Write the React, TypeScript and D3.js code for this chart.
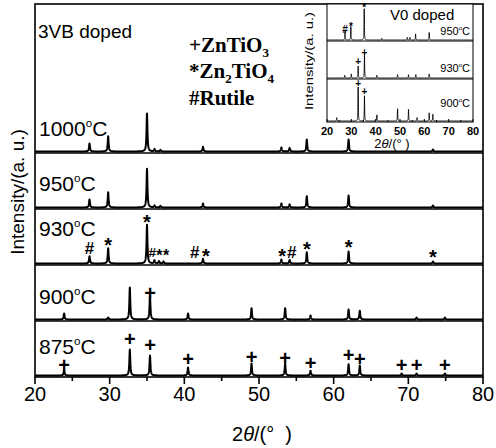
import React from 'react';
import * as d3 from 'd3';

// peak positions (2θ, degrees) and relative intensities
const pos1000 = [27.3, 29.8, 35.0, 36.0, 36.8, 42.5, 53.0, 54.1, 56.4, 62.0, 73.3];
const int1000 = [20, 38, 95, 6, 4, 12, 10, 9, 30, 30, 5];
const pos950 = [27.3, 29.8, 35.0, 36.0, 36.8, 42.5, 53.0, 54.1, 56.4, 62.0, 73.3];
const int950 = [20, 38, 97, 5, 4, 10, 10, 8, 28, 30, 5];
const pos930 = [27.3, 29.8, 35.0, 36.0, 36.6, 37.2, 42.5, 53.0, 54.1, 56.4, 62.0, 73.3];
const int930 = [18, 38, 97, 8, 6, 5, 12, 10, 9, 28, 30, 5];
const pos900 = [23.9, 29.8, 32.7, 35.4, 40.5, 49.0, 53.5, 56.9, 62.0, 63.5, 71.1, 74.9];
const int900 = [15, 5, 80, 60, 15, 28, 28, 10, 25, 22, 5, 5];
const pos875 = [23.9, 32.7, 35.4, 40.5, 49.0, 53.5, 56.9, 62.0, 63.5, 69.1, 71.1, 74.9];
const int875 = [14, 65, 50, 20, 30, 30, 12, 28, 25, 5, 5, 5];

// phase markers: position, symbol, height (same intensity units)
const mk930Pos = [27.3, 29.8, 35.0, 35.7, 36.65, 37.55, 41.4, 42.9, 53.1, 54.4, 56.4, 62.0, 73.3];
const mk930Sym = ['#', '*', '*', '#', '*', '*', '#', '*', '*', '#', '*', '*', '*'];
const mk930H = [40, 56, 115, 28, 28, 28, 30, 30, 30, 30, 48, 53, 28];
const mk900Pos = [35.4];
const mk900Sym = ['+'];
const mk900H = [68];
const mk875Pos = [23.9, 32.7, 35.4, 40.5, 49.0, 53.5, 56.9, 62.0, 63.5, 69.1, 71.1, 74.9];
const mk875Sym = mk875Pos.map(() => '+');
const mk875H = [27, 93, 78, 43, 48, 45, 33, 51, 43, 28, 28, 26];

const mainTemps = ['1000', '950', '930', '900', '875'];

// inset (V0 doped)
const in950Pos = [27.4, 29.8, 35.3, 42.5, 53.0, 54.1, 56.4, 62.0];
const in950Int = [26, 40, 92, 5, 8, 8, 18, 22];
const in930Pos = [27.3, 30.0, 32.8, 35.4, 40.5, 49.0, 53.5, 56.5, 62.0];
const in930Int = [8, 12, 35, 70, 8, 10, 10, 10, 12];
const in900Pos = [24.0, 32.8, 35.4, 40.5, 49.0, 53.5, 57.0, 62.0, 63.5];
const in900Int = [10, 100, 74, 18, 36, 34, 10, 24, 20];
const inMk950Pos = [27.4, 29.8, 35.3];
const inMk950Sym = ['#', '*', '*'];
const inMk950H = [32, 47, 102];
const inMk930Pos = [32.8, 35.4];
const inMk930Sym = ['+', '+'];
const inMk930H = [50, 75];
const inMk900Pos = [32.8, 35.4];
const inMk900Sym = ['+', '+'];
const inMk900H = [110, 86];
const insetTemps = ['950', '930', '900'];

const xTicks = [20, 30, 40, 50, 60, 70, 80];
const xMinor = [25, 35, 45, 55, 65, 75];

const SANS = '"Liberation Sans", Arial, sans-serif';
const SERIF = '"Liberation Serif", "Times New Roman", serif';

const grid = d3.range(20, 80.001, 0.02);

function profile(pos: number[], inten: number[], hw: number) {
  return grid.map(t => {
    let s = 0;
    pos.forEach((p, i) => {
      const d = t - p;
      s += (inten[i] * hw * hw) / (d * d + hw * hw);
    });
    return [t, s] as [number, number];
  });
}

function symDy(sym: string, fs: number) {
  return sym === '*' ? 0.56 * fs : 0.36 * fs;
}

function symSize(sym: string, fs: number) {
  return sym === '#' ? fs * 0.85 : fs;
}

function Deg({ x, y, t, fs, anchor }: any) {
  return (
    <text x={x} y={y} fontSize={fs} fontFamily={SANS} textAnchor={anchor || 'start'}>
      {t}
      <tspan fontSize={fs * 0.55} dy={-fs * 0.45}>o</tspan>
      <tspan dy={fs * 0.45}>C</tspan>
    </text>
  );
}

export default function App() {
  const left = 35, right = 483, top = 4, bottom = 377, step = 56;
  const x = d3.scaleLinear().domain([20, 80]).range([left, right]);
  const bases = mainTemps.map((_, i) => bottom - (4 - i) * step);
  const traces = [
    profile(pos1000, int1000, 0.07),
    profile(pos950, int950, 0.07),
    profile(pos930, int930, 0.07),
    profile(pos900, int900, 0.07),
    profile(pos875, int875, 0.07),
  ];
  const marks = [
    null,
    null,
    { p: mk930Pos, s: mk930Sym, h: mk930H },
    { p: mk900Pos, s: mk900Sym, h: mk900H },
    { p: mk875Pos, s: mk875Sym, h: mk875H },
  ];
  const labelOff = [17, 18, 29, 17, 23];

  // inset geometry
  const iL = 327, iR = 473, iTop = 4, iBottom = 122;
  const xi = d3.scaleLinear().domain([20, 80]).range([iL, iR]);
  const iBases = [41, 79, iBottom];
  const iTraces = [
    profile(in950Pos, in950Int, 0.08),
    profile(in930Pos, in930Int, 0.08),
    profile(in900Pos, in900Int, 0.08),
  ];
  const iMarks = [
    { p: inMk950Pos, s: inMk950Sym, h: inMk950H },
    { p: inMk930Pos, s: inMk930Sym, h: inMk930H },
    { p: inMk900Pos, s: inMk900Sym, h: inMk900H },
  ];
  const iLabelOff = [6, 7, 15];

  return (
    <svg width={496} height={448} style={{ position: 'absolute', left: 0, top: 0, background: '#fff' }}>
      {/* main traces */}
      {traces.map((tr, i) => {
        const y = d3.scaleLinear().domain([0, 100]).range([bases[i] - 1.5, bases[i] - 41.5]);
        const line = d3.line<[number, number]>().x(d => x(d[0])).y(d => y(d[1]));
        const m = marks[i];
        return (
          <g key={i}>
            <path d={line(tr) || ''} fill="none" stroke="#000" strokeWidth={2} strokeLinejoin="round" />
            {m && m.p.map((p, j) => {
              // the crowded group right of the 35° peak is set a bit smaller
              const crowded = i === 2 && p > 35.5 && p < 38;
              const fs = symSize(m.s[j], crowded ? 16 : 20);
              return (
                <text key={j} x={x(p)} y={y(m.h[j]) + symDy(m.s[j], fs)} fontSize={fs} fontWeight="bold"
                  fontFamily={SANS} textAnchor="middle">{m.s[j]}</text>
              );
            })}
            <Deg x={39} y={bases[i] - labelOff[i]} t={mainTemps[i]} fs={21} />
          </g>
        );
      })}

      {/* panel separators and frame */}
      {bases.slice(0, 4).map((b, i) => (
        <line key={i} x1={left} x2={right} y1={b} y2={b} stroke="#000" strokeWidth={1.6} />
      ))}
      <rect x={left} y={top} width={right - left} height={bottom - top} fill="none" stroke="#000" strokeWidth={1.6} />

      {/* bottom axis */}
      {xTicks.map(t => (
        <g key={t}>
          <line x1={x(t)} x2={x(t)} y1={bottom} y2={bottom + 7} stroke="#000" strokeWidth={1.6} />
          <text x={x(t)} y={401} fontSize={20} fontFamily={SANS} textAnchor="middle">{t}</text>
        </g>
      ))}
      {xMinor.map(t => (
        <line key={t} x1={x(t)} x2={x(t)} y1={bottom} y2={bottom + 4} stroke="#000" strokeWidth={1.6} />
      ))}
      <text x={262} y={441} fontSize={20} fontFamily={SANS} textAnchor="middle">
        2<tspan fontStyle="italic">θ</tspan>/(°{'\u00a0\u00a0'})
      </text>
      <text transform="translate(24,192) rotate(-90)" fontSize={19} fontFamily={SANS} textAnchor="middle">
        Intensity/(a. u.)
      </text>

      <text x={38} y={38} fontSize={19} fontFamily={SANS}>3VB doped</text>

      {/* legend */}
      <g fontFamily={SERIF} fontWeight="bold" fontSize={21}>
        <text x={189} y={52}>+ZnTiO<tspan fontSize={13} dy={5}>3</tspan></text>
        <text x={189} y={78}>*Zn<tspan fontSize={13} dy={5}>2</tspan><tspan dy={-5}>TiO</tspan><tspan fontSize={13} dy={5}>4</tspan></text>
        <text x={189} y={105}>#Rutile</text>
      </g>

      {/* inset */}
      <rect x={iL} y={iTop} width={iR - iL} height={iBottom - iTop} fill="#fff" stroke="#000" strokeWidth={1} />
      {iTraces.map((tr, i) => {
        const y = d3.scaleLinear().domain([0, 100]).range([iBases[i] - 1, iBases[i] - 35]);
        const line = d3.line<[number, number]>().x(d => xi(d[0])).y(d => y(d[1]));
        const m = iMarks[i];
        return (
          <g key={i}>
            <path d={line(tr) || ''} fill="none" stroke="#000" strokeWidth={0.9} />
            {m.p.map((p, j) => (
              <text key={j} x={xi(p)} y={y(m.h[j]) + symDy(m.s[j], 10)} fontSize={10} fontWeight="bold"
                fontFamily={SANS} textAnchor="middle">{m.s[j]}</text>
            ))}
            <Deg x={470} y={iBases[i] - iLabelOff[i]} t={insetTemps[i]} fs={11} anchor="end" />
          </g>
        );
      })}
      {iBases.slice(0, 2).map((b, i) => (
        <line key={i} x1={iL} x2={iR} y1={b} y2={b} stroke="#000" strokeWidth={1} />
      ))}
      {xTicks.map(t => (
        <g key={t}>
          <line x1={xi(t)} x2={xi(t)} y1={iBottom} y2={iBottom - 3} stroke="#000" strokeWidth={1} />
          <text x={xi(t)} y={135} fontSize={11} fontWeight="bold" fontFamily={SANS} textAnchor="middle">{t}</text>
        </g>
      ))}
      {xMinor.map(t => (
        <line key={t} x1={xi(t)} x2={xi(t)} y1={iBottom} y2={iBottom - 2} stroke="#000" strokeWidth={1} />
      ))}
      <text x={392} y={148} fontSize={13} fontFamily={SANS} textAnchor="middle">
        2<tspan fontStyle="italic">θ</tspan>/(°{'\u00a0'})
      </text>
      <text transform="translate(313,61) rotate(-90)" fontSize={11} fontFamily={SANS} textAnchor="middle"
        textLength={98} lengthAdjust="spacingAndGlyphs">
        Intensity/(a. u.)
      </text>
      <text x={390} y={20} fontSize={15} fontFamily={SANS}>V0 doped</text>
    </svg>
  );
}
